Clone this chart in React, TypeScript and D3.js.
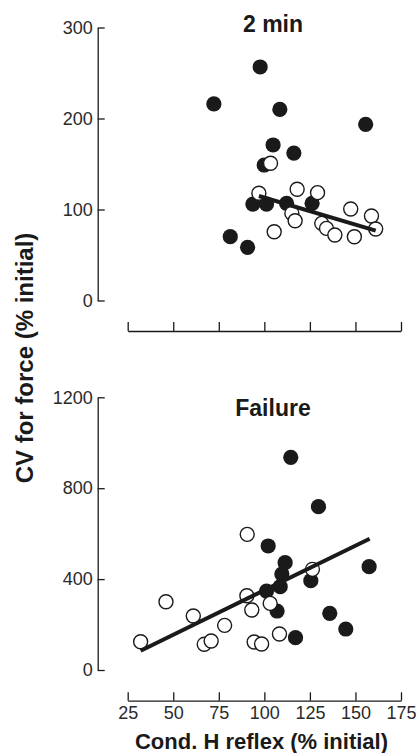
import React, { useRef, useEffect } from "react";
import * as d3 from "d3";

// [cond. H reflex %, CV for force %]
const twoMinFilled = [
  [72.3, 216], [97.7, 256.6], [108.5, 210], [155.6, 193.6], [104.8, 170.9],
  [116.2, 162], [99.9, 148.9], [93.7, 106], [101.2, 106], [112.2, 106.8],
  [126.2, 106.8], [81.3, 70.1], [90.8, 58.4],
];
const twoMinOpen = [
  [103.4, 150.8], [97, 117.8], [118, 122.2], [129.2, 118.5], [115.1, 95.8],
  [116.9, 87.7], [105.4, 75.6], [131.5, 84.8], [134.1, 79.3], [138.7, 72],
  [147.4, 100.5], [149.4, 70.1], [158.8, 92.9], [161.1, 78.6],
];
const twoMinFit = [[97, 114.8], [161.1, 76.7]];

const failureFilled = [
  [114.5, 936], [129.7, 718.6], [102.1, 545.7], [111.4, 472.2], [109.6, 422.4],
  [108.7, 366.6], [101.2, 347.6], [107, 259.6], [125.5, 393], [157.5, 454.6],
  [135.9, 249.5], [144.7, 180.4], [117.1, 142.3],
];
const failureOpen = [
  [90.6, 597], [126.4, 443], [90.4, 327], [93.1, 264], [103.2, 293],
  [46, 300.6], [61, 237.6], [78.2, 196.5], [32.1, 124.6], [67, 113],
  [70.8, 127.6], [94.4, 123.2], [98.5, 114.4], [108.3, 158.4],
];
const failureFit = [[32.1, 85], [157.8, 577.8]];

const xTicks = [25, 50, 75, 100, 125, 150, 175];
const twoMinTicks = [0, 100, 200, 300];
const failureTicks = [0, 400, 800, 1200];

const FONT = "'Liberation Sans', Arial, Helvetica, sans-serif";
const INK = "#1a1a1a";

const App = () => {
  const svgRef = useRef(null);

  useEffect(() => {
    const svg = d3.select(svgRef.current);
    svg.selectAll("*").remove();

    const x = d3.scaleLinear().domain([25, 175]).range([127.7, 401]);

    const panel = (opts) => {
      const { y, yTicks, xAxisY, xLabels, xTick, filled, open, fit, title, titleY } = opts;
      const g = svg.append("g");

      const ya = g
        .append("g")
        .attr("transform", "translate(97.7,0)")
        .call(
          d3
            .axisLeft(y)
            .tickValues(yTicks)
            .tickSize(-7)
            .tickSizeOuter(0)
            .tickPadding(5)
            .tickFormat(d3.format("d"))
        );

      const xa = g
        .append("g")
        .attr("transform", `translate(0,${xAxisY})`)
        .call(
          d3
            .axisBottom(x)
            .tickValues(xTicks)
            .tickSize(-xTick)
            .tickSizeOuter(0)
            .tickPadding(6)
            .tickFormat(xLabels ? d3.format("d") : () => "")
        );

      [ya, xa].forEach((a) => {
        a.attr("font-family", FONT).attr("font-size", 18);
        a.selectAll("path, line").attr("stroke", INK).attr("stroke-width", 1.3);
        a.selectAll("text").attr("fill", "#2a2a2a");
      });

      g.selectAll(".filled")
        .data(filled)
        .enter()
        .append("circle")
        .attr("cx", (d) => x(d[0]))
        .attr("cy", (d) => y(d[1]))
        .attr("r", 7.6)
        .attr("fill", INK);

      g.selectAll(".open")
        .data(open)
        .enter()
        .append("circle")
        .attr("cx", (d) => x(d[0]))
        .attr("cy", (d) => y(d[1]))
        .attr("r", 7)
        .attr("fill", "#fff")
        .attr("stroke", INK)
        .attr("stroke-width", 1.4);

      g.append("path")
        .attr("d", d3.line().x((d) => x(d[0])).y((d) => y(d[1]))(fit))
        .attr("stroke", INK)
        .attr("stroke-width", 4)
        .attr("fill", "none");

      g.append("text")
        .attr("x", 273)
        .attr("y", titleY)
        .attr("text-anchor", "middle")
        .attr("font-family", FONT)
        .attr("font-weight", "bold")
        .attr("font-size", 23)
        .attr("fill", INK)
        .text(title);
    };

    panel({
      y: d3.scaleLinear().domain([0, 300]).range([300.5, 27.5]),
      yTicks: twoMinTicks,
      xAxisY: 331,
      xLabels: false,
      xTick: 9,
      filled: twoMinFilled,
      open: twoMinOpen,
      fit: twoMinFit,
      title: "2 min",
      titleY: 31.7,
    });

    panel({
      y: d3.scaleLinear().domain([0, 1200]).range([670, 397.3]),
      yTicks: failureTicks,
      xAxisY: 700.7,
      xLabels: true,
      xTick: 8.4,
      filled: failureFilled,
      open: failureOpen,
      fit: failureFit,
      title: "Failure",
      titleY: 415.7,
    });

    svg
      .append("text")
      .attr("transform", "translate(33,358) rotate(-90)")
      .attr("text-anchor", "middle")
      .attr("font-family", FONT)
      .attr("font-weight", "bold")
      .attr("font-size", 24)
      .attr("fill", INK)
      .text("CV for force (% initial)");

    svg
      .append("text")
      .attr("x", 261.5)
      .attr("y", 749)
      .attr("text-anchor", "middle")
      .attr("font-family", FONT)
      .attr("font-weight", "bold")
      .attr("font-size", 22)
      .attr("fill", INK)
      .text("Cond. H reflex (% initial)");
  }, []);

  return (
    <svg
      ref={svgRef}
      width={417}
      height={753}
      style={{ position: "absolute", left: 0, top: 0, background: "#fff" }}
    />
  );
};

export default App;
